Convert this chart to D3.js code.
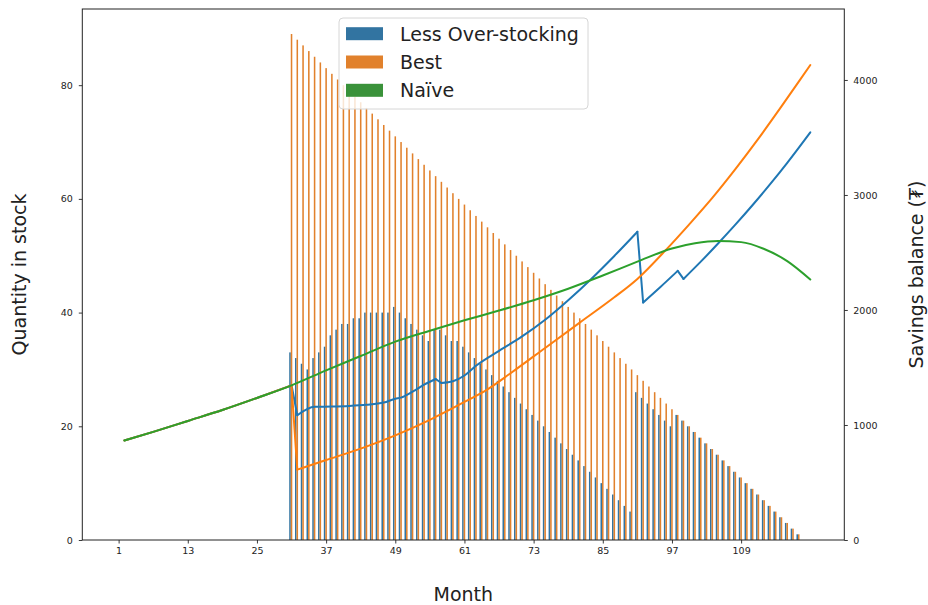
<!DOCTYPE html>
<html>
<head>
<meta charset="utf-8">
<title>stock and savings</title>
<script src="https://cdn.jsdelivr.net/npm/d3@7"></script>
<style>
body { margin: 0; background: #fff; }
svg text { font-family: "DejaVu Sans", sans-serif; fill: #222; }
.axis path { display: none; }
.axis line { stroke: #222; stroke-width: 0.9; }
</style>
</head>
<body>
<svg id="chart" width="928" height="605"></svg>
<script>
// x tick labels (month)
var monthTicks = [1, 13, 25, 37, 49, 61, 73, 85, 97, 109];
var qtyTicks = [0, 20, 40, 60, 80];
var balTicks = [0, 1000, 2000, 3000, 4000];

// bars: months with stock (nothing before 31)
var barMonths = [31,32,33,34,35,36,37,38,39,40,41,42,43,44,45,46,47,48,49,50,
  51,52,53,54,55,56,57,58,59,60,61,62,63,64,65,66,67,68,69,70,
  71,72,73,74,75,76,77,78,79,80,81,82,83,84,85,86,87,88,89,90,
  91,92,93,94,95,96,97,98,99,100,101,102,103,104,105,106,107,108,109,110,
  111,112,113,114,115,116,117,118,119];
var lessStock = [33,32,31,30,32,33,34,36,37,38,38,39,39,40,40,40,40,40,41,40,
  39,38,37,36,35,37,37,36,35,35,34,33,32,31,30,29,28,27,26,25,
  24,23,22,21,20,19,18,17,16,15,14,13,12,11,10,9,8,7,6,5,
  26,25,24,23,22,21,20,22,21,20,19,18,17,16,15,14,13,12,11,10,
  9,8,7,6,5,4,3,2,1];
var bestStock = [89,88,87,86,85,84,83,82,81,80,79,78,77,76,75,74,73,72,71,70,
  69,68,67,66,65,64,63,62,61,60,59,58,57,56,55,54,53,52,51,50,
  49,48,47,46,45,44,43,42,41,40,39,38,37,36,35,34,33,32,31,30,
  29,28,27,26,25,24,23,22,21,20,19,18,17,16,15,14,13,12,11,10,
  9,8,7,6,5,4,3,2,1];

// savings balance lines
var lessMonths = [2,7,13,19,25,31,32,35,38,41,44,47,49,50,52,54,56,57,59,61,63,67,71,75,79,83,87,91,92,95,98,99,102,105,108,111,114,117,121];
var lessBalance = [865,940,1035,1130,1235,1345,1085,1158,1160,1165,1175,1195,1228,1238,1290,1350,1400,1365,1380,1430,1515,1645,1770,1915,2085,2270,2470,2680,2065,2200,2340,2270,2420,2578,2742,2913,3092,3280,3545];
var bestMonths = [2,7,13,19,25,31,32,37,43,49,55,61,65,69,75,81,87,91,96,100,104,108,112,116,119,121];
var bestBalance = [865,940,1035,1130,1235,1345,612,695,795,910,1045,1200,1310,1450,1670,1890,2110,2270,2525,2745,2975,3225,3490,3770,3985,4130];
var naiveMonths = [2,7,13,19,25,31,37,43,49,55,61,67,73,79,85,91,97,101,105,109,113,117,121];
var naiveBalance = [865,940,1035,1130,1235,1345,1475,1600,1725,1820,1910,1995,2085,2185,2300,2420,2535,2580,2600,2590,2530,2425,2265];

var seriesNames = ["Less Over-stocking", "Best", "Naïve"];
var barColors = ["#3274a1", "#e1812c", "#3a923a"];
var lineColors = ["#1f77b4", "#ff7f0e", "#2ca02c"];

var svg = d3.select("#chart");
var pL = 82.3, pR = 844.3, pT = 9, pB = 540;

var x = d3.scaleLinear().domain([-5.3, 126.9]).range([pL, pR]);
var yQty = d3.scaleLinear().domain([0, 93.4]).range([pB, pT]);
var yBal = d3.scaleLinear().domain([0, 4617]).range([pB, pT]);

var bw = 0.8 / 3; // seaborn hue width
var barW = x(bw) - x(0);

function drawBars(vals, off, color) {
    svg.append("g").selectAll("rect")
        .data(barMonths)
        .enter().append("rect")
        .attr("x", function(d) { return x(d + off - bw / 2); })
        .attr("width", barW)
        .attr("y", function(d, i) { return yQty(vals[i]); })
        .attr("height", function(d, i) { return pB - yQty(vals[i]); })
        .attr("fill", color);
}
drawBars(lessStock, -bw, barColors[0]);
drawBars(bestStock, 0, barColors[1]);

// axes
svg.append("g").attr("class", "axis")
    .attr("transform", "translate(0," + pB + ")")
    .call(d3.axisBottom(x).tickValues(monthTicks).tickSize(3.5).tickPadding(4))
    .selectAll("text").attr("font-size", "9.5px");
svg.append("g").attr("class", "axis")
    .attr("transform", "translate(" + pL + ",0)")
    .call(d3.axisLeft(yQty).tickValues(qtyTicks).tickSize(3.5).tickPadding(6))
    .selectAll("text").attr("font-size", "9.5px");
svg.append("g").attr("class", "axis")
    .attr("transform", "translate(" + pR + ",0)")
    .call(d3.axisRight(yBal).tickValues(balTicks).tickFormat(d3.format("d")).tickSize(3.5).tickPadding(5.5))
    .selectAll("text").attr("font-size", "9.5px");

// lines
var line = d3.line()
    .x(function(d) { return x(d[0]); })
    .y(function(d) { return yBal(d[1]); });
var smooth = d3.line()
    .x(function(d) { return x(d[0]); })
    .y(function(d) { return yBal(d[1]); })
    .curve(d3.curveMonotoneX);

function addPath(pts, gen, color) {
    svg.append("path")
        .datum(pts)
        .attr("d", gen)
        .attr("fill", "none")
        .attr("stroke", color)
        .attr("stroke-width", 2)
        .attr("stroke-linejoin", "round")
        .attr("stroke-linecap", "round");
}

// rising runs are smoothed, the sudden drops stay straight
function drawBalance(months, vals, color) {
    var pts = months.map(function(m, i) { return [m, vals[i]]; });
    var run = [pts[0]];
    for (var i = 1; i < pts.length; i++) {
        if (pts[i][1] >= pts[i - 1][1]) {
            run.push(pts[i]);
        } else {
            if (run.length > 1) addPath(run, smooth, color);
            addPath([pts[i - 1], pts[i]], line, color);
            run = [pts[i]];
        }
    }
    if (run.length > 1) addPath(run, smooth, color);
}

drawBalance(lessMonths, lessBalance, lineColors[0]);
drawBalance(bestMonths, bestBalance, lineColors[1]);
addPath(naiveMonths.map(function(m, i) { return [m, naiveBalance[i]]; }), smooth, lineColors[2]);

// frame
svg.append("rect")
    .attr("x", pL).attr("y", pT)
    .attr("width", pR - pL).attr("height", pB - pT)
    .attr("fill", "none").attr("stroke", "#222").attr("stroke-width", 1);

// axis titles
svg.append("text").attr("x", (pL + pR) / 2).attr("y", 601)
    .attr("text-anchor", "middle").attr("font-size", "19px").text("Month");
svg.append("text").attr("transform", "translate(26,274.5) rotate(-90)")
    .attr("text-anchor", "middle").attr("font-size", "19px").text("Quantity in stock");
svg.append("text").attr("transform", "translate(923,274.5) rotate(-90)")
    .attr("text-anchor", "middle").attr("font-size", "19px").text("Savings balance (₮)");

// legend
var lg = svg.append("g");
lg.append("rect")
    .attr("x", 339).attr("y", 18).attr("width", 249).attr("height", 91)
    .attr("rx", 4).attr("fill", "#fff").attr("fill-opacity", 0.8)
    .attr("stroke", "#d6d6d6").attr("stroke-width", 1);
seriesNames.forEach(function(name, i) {
    var cy = 33.7 + i * 28.3;
    lg.append("rect").attr("x", 346).attr("y", cy - 6.5)
        .attr("width", 37).attr("height", 13).attr("fill", barColors[i]);
    lg.append("text").attr("x", 400).attr("y", cy).attr("dy", "0.36em")
        .attr("font-size", "19px").text(name);
});
</script>
</body>
</html>
